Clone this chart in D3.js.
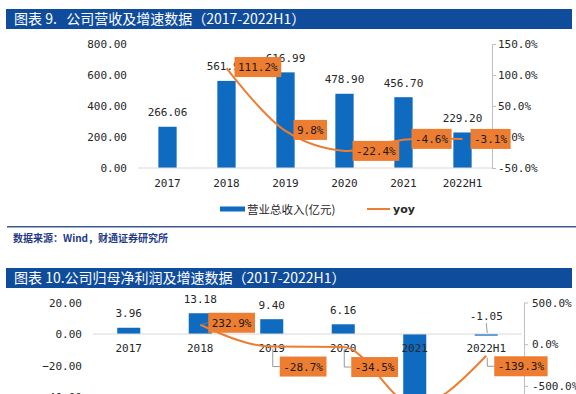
<!DOCTYPE html>
<html>
<head>
<meta charset="utf-8">
<script src="https://cdn.jsdelivr.net/npm/d3@7"></script>
<style>
  body { margin: 0; background: #fff; }
  svg { display: block; }
</style>
</head>
<body>
<script>
// 数据
const years = ["2017", "2018", "2019", "2020", "2021", "2022H1"];
const revenue = [266.06, 561.92, 616.99, 478.90, 456.70, 229.20];   // 营业总收入(亿元)
const revenueYoy = [null, 111.2, 9.8, -22.4, -4.6, -3.1];            // %
const profit = [3.96, 13.18, 9.40, 6.16, -38.90, -1.05];             // 归母净利润(亿元)
const profitYoy = [null, 232.9, -28.7, -34.5, -731.5, -139.3];      // %

const revTicks = [0, 200, 400, 600, 800];
const revYoyTicks = [-50, 0, 50, 100, 150];
const profitTicks = [-40, -20, 0, 20];
const profitYoyTicks = [-500, 0, 500];

const W = 576, H = 394;
const BLUE = "#0e6bbf", ORANGE = "#ed7d31", NAVY = "#0f4c9c", TXT = "#262626", GRID = "#d9d9d9";
const NUM = "'DejaVu Sans Mono', monospace";
const CJK = "'Noto Sans CJK SC', sans-serif";

const svg = d3.select("body").append("svg")
    .attr("width", W)
    .attr("height", H);

svg.append("rect").attr("width", W).attr("height", H).attr("fill", "#fff");

function titleBar(y, text) {
  svg.append("rect")
      .attr("x", 6).attr("y", y)
      .attr("width", 566).attr("height", 20)
      .attr("fill", NAVY);
  svg.append("text")
      .attr("x", 14).attr("y", y + 15)
      .attr("fill", "#fff")
      .attr("font-family", CJK)
      .attr("font-size", 14)
      .text(text);
}

function styleAxis(g) {
  g.selectAll("text")
      .attr("font-family", NUM)
      .attr("font-size", 11)
      .attr("fill", TXT);
  g.selectAll("line, path").attr("stroke", "#bfbfbf");
}

function drawChart(o) {
  const g = svg.append("g");

  const x = d3.scaleBand()
      .domain(years)
      .range(o.xRange)
      .paddingInner(o.pad)
      .paddingOuter(o.pad / 2);
  const y = d3.scaleLinear().domain(o.yDomain).range(o.yRange);
  const y2 = d3.scaleLinear().domain(o.y2Domain).range(o.y2Range);
  const cx = d => x(d) + x.bandwidth() / 2;

  // 左轴
  g.append("g")
      .attr("transform", `translate(${o.xRange[0]},0)`)
      .call(d3.axisLeft(y).tickValues(o.yTicks).tickSize(0).tickPadding(11).tickFormat(d3.format(".2f")))
      .call(a => a.select(".domain").remove())
      .call(styleAxis);

  // 右轴
  g.append("g")
      .attr("transform", `translate(${o.rightX},0)`)
      .call(d3.axisRight(y2).tickValues(o.y2Ticks).tickSize(4).tickSizeOuter(0).tickPadding(o.rPad)
        .tickFormat(d => d.toFixed(1) + "%"))
      .call(styleAxis);

  // 柱
  g.selectAll("rect.bar")
    .data(o.values)
    .join("rect")
      .attr("class", "bar")
      .attr("x", (d, i) => x(years[i]))
      .attr("width", x.bandwidth())
      .attr("y", d => y(Math.max(0, d)))
      .attr("height", d => Math.abs(y(d) - y(0)))
      .attr("fill", BLUE);

  // 零线
  g.append("line")
      .attr("x1", o.xRange[0]).attr("x2", o.xRange[1])
      .attr("y1", y(0)).attr("y2", y(0))
      .attr("stroke", GRID).attr("stroke-width", 1.2);

  // 年份
  g.selectAll("text.cat")
    .data(years)
    .join("text")
      .attr("class", "cat")
      .attr("x", d => cx(d))
      .attr("y", o.catY)
      .attr("text-anchor", "middle")
      .attr("font-family", NUM).attr("font-size", 11).attr("fill", TXT)
      .text(d => d);

  // 柱上数值（大幅负值的标签落在画面之外）
  o.values.forEach((v, i) => {
    const xc = cx(years[i]);
    let ty;
    if (v >= 0) {
      ty = y(v) - 10.5;
    } else if (y(v) - y(0) < 12) {
      ty = y(0) - 14;
      g.append("line")
          .attr("x1", xc).attr("x2", xc + 1)
          .attr("y1", ty + 3).attr("y2", y(0) - 1)
          .attr("stroke", "#7f7f7f").attr("stroke-width", 0.8);
    } else {
      ty = y(v) + 18;
    }
    if (ty > H) return;
    g.append("text")
        .attr("x", xc).attr("y", ty)
        .attr("text-anchor", "middle")
        .attr("font-family", NUM).attr("font-size", 11).attr("fill", TXT)
        .text(v.toFixed(2));
  });

  // 折线
  const pts = o.yoy.map((v, i) => ({ x: cx(years[i]), v }));
  const line = d3.line()
      .defined(d => d.v != null)
      .x(d => d.x)
      .y(d => y2(d.v))
      .curve(o.curve);
  g.append("path")
      .datum(pts)
      .attr("fill", "none")
      .attr("stroke", ORANGE)
      .attr("stroke-width", 2)
      .attr("d", line);

  // 增速标签
  pts.forEach((p, i) => {
    if (p.v == null) return;
    const py = y2(p.v);
    const dy = o.labelDy[i];
    const bx = p.x + 8, by = py + dy;
    if (by - 10 > H) return;
    if (Math.abs(dy) > 4) {
      g.append("path")
          .attr("d", `M${p.x + 1},${py + 2}V${by}H${bx}`)
          .attr("fill", "none")
          .attr("stroke", "#7f7f7f").attr("stroke-width", 0.8);
    } else if (o.leaderAll) {
      g.append("line")
          .attr("x1", p.x).attr("y1", py).attr("x2", bx).attr("y2", by)
          .attr("stroke", "#7f7f7f").attr("stroke-width", 0.8);
    }
    const lg = g.append("g");
    const rect = lg.append("rect").attr("fill", ORANGE);
    const t = lg.append("text")
        .attr("x", bx + 3.5).attr("y", by + 4)
        .attr("font-family", NUM).attr("font-size", 11).attr("fill", "#1a1a1a")
        .text(p.v.toFixed(1) + "%");
    const w = t.node().getComputedTextLength();
    rect.attr("x", bx).attr("y", by - 10).attr("width", w + 7).attr("height", 20);
  });
}

// 图表 9
titleBar(9, "图表 9.\u00A0\u00A0\u00A0公司营收及增速数据（2017-2022H1）");
drawChart({
  values: revenue,
  yoy: revenueYoy,
  xRange: [138, 492],
  pad: 0.69,
  yDomain: [0, 800], yRange: [168, 44], yTicks: revTicks,
  y2Domain: [-50, 150], y2Range: [168, 44], y2Ticks: revYoyTicks,
  rightX: 492, rPad: 2,
  catY: 187,
  curve: d3.curveCatmullRom,
  labelDy: [0, -1, -1, 0, -1, 0],
  leaderAll: false
});

// 图例
const leg = svg.append("g");
leg.append("rect").attr("x", 220).attr("y", 206.5).attr("width", 25).attr("height", 5).attr("fill", BLUE);
leg.append("text").attr("x", 247).attr("y", 213.5)
    .attr("font-family", CJK).attr("font-size", 11.5).attr("fill", TXT)
    .text("营业总收入(亿元)");
leg.append("line").attr("x1", 367).attr("x2", 390).attr("y1", 209).attr("y2", 209)
    .attr("stroke", ORANGE).attr("stroke-width", 2);
leg.append("text").attr("x", 393).attr("y", 213)
    .attr("font-family", "'DejaVu Sans', sans-serif").attr("font-size", 11).attr("font-weight", "bold").attr("fill", TXT)
    .text("yoy");

// 分隔线与来源
svg.append("line").attr("x1", 7).attr("x2", W).attr("y1", 226.7).attr("y2", 226.7)
    .attr("stroke", "#3a5a8c").attr("stroke-width", 1.5);
svg.append("text").attr("x", 13).attr("y", 241.5)
    .attr("font-family", CJK).attr("font-size", 10).attr("font-weight", "bold").attr("fill", "#1f3c88")
    .text("数据来源：Wind，财通证券研究所");

// 图表 10
titleBar(268, "图表 10.公司归母净利润及增速数据（2017-2022H1）");
drawChart({
  values: profit,
  yoy: profitYoy,
  xRange: [93, 522],
  pad: 0.678,
  yDomain: [-80, 20], yRange: [460, 302.5], yTicks: profitTicks,
  y2Domain: [-1000, 500], y2Range: [427.5, 302.5], y2Ticks: profitYoyTicks,
  rightX: 524, rPad: 4,
  catY: 352,
  curve: d3.curveMonotoneX,
  labelDy: [0, -2, 20, 20, 20, 10.5],
  leaderAll: true
});
</script>
</body>
</html>
